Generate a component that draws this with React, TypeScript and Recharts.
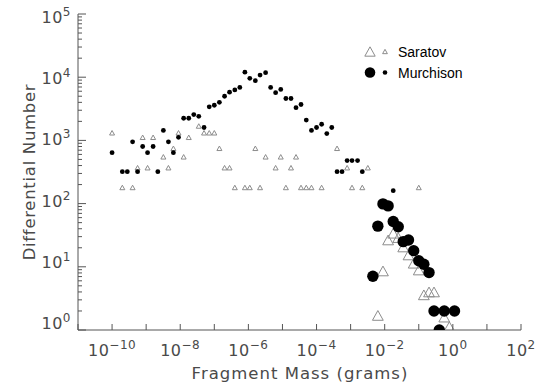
import React from 'react';
import { ScatterChart, Scatter, XAxis, YAxis, Legend } from 'recharts';

// [mass in grams, differential number]
const saratovSmall = [
  [1.0e-10, 1320], [2.0e-10, 180], [4.0e-10, 180], [5.6e-10, 370], [7.9e-10, 1120],
  [1.1e-9, 370], [1.6e-9, 1120], [3.2e-9, 550], [4.5e-9, 370], [6.3e-9, 750],
  [8.9e-9, 1320], [1.26e-8, 550], [1.78e-8, 1120], [3.5e-8, 1690], [5.0e-8, 1320],
  [7.1e-8, 1320], [1.0e-7, 1320], [1.41e-7, 750], [2.0e-7, 370], [2.8e-7, 370],
  [4.0e-7, 180], [7.9e-7, 180], [1.1e-6, 180], [1.6e-6, 750], [2.2e-6, 180],
  [3.2e-6, 550], [6.3e-6, 370], [8.9e-6, 550], [1.26e-5, 180], [1.78e-5, 370],
  [2.5e-5, 550], [3.5e-5, 180], [5.0e-5, 180], [7.1e-5, 180], [1.41e-4, 180],
  [4.0e-4, 750], [7.9e-4, 370], [1.1e-3, 180], [2.2e-3, 180], [3.2e-3, 370],
  [0.1, 180],
];

const saratovLarge = [
  [6.3e-3, 1.7], [8.9e-3, 8.6], [1.26e-2, 26.6], [1.78e-2, 34], [2.5e-2, 29],
  [3.5e-2, 20.6], [5.0e-2, 15.4], [7.1e-2, 11.4], [0.1, 8.9], [0.141, 3.6],
  [0.2, 4.0], [0.28, 4.0], [0.56, 1.6], [0.79, 1.13],
];

const murchisonSmall = [
  [1.0e-10, 640], [2.0e-10, 320], [2.8e-10, 320], [4.0e-10, 950], [5.6e-10, 320],
  [7.9e-10, 800], [1.1e-9, 640], [1.6e-9, 800], [2.2e-9, 320], [3.2e-9, 1440],
  [4.5e-9, 950], [6.3e-9, 640], [8.9e-9, 1120], [1.26e-8, 2240], [1.78e-8, 2240],
  [2.5e-8, 2560], [3.5e-8, 2400], [5.0e-8, 1600], [7.1e-8, 3400], [1.0e-7, 3600],
  [1.41e-7, 4000], [2.0e-7, 5000], [2.8e-7, 5800], [4.0e-7, 6300], [5.6e-7, 6900],
  [7.9e-7, 12000], [1.1e-6, 9600], [1.6e-6, 8800], [2.2e-6, 10800], [3.2e-6, 11800],
  [4.5e-6, 6900], [6.3e-6, 5700], [8.9e-6, 6400], [1.26e-5, 4600], [1.78e-5, 4600],
  [2.5e-5, 3300], [3.5e-5, 3700], [5.0e-5, 2100], [7.1e-5, 1440], [1.0e-4, 1600],
  [1.41e-4, 1800], [2.0e-4, 1280], [2.8e-4, 1600], [4.0e-4, 320], [5.6e-4, 320],
  [7.9e-4, 480], [1.1e-3, 480], [1.6e-3, 480], [2.2e-3, 320], [1.78e-2, 160],
];

const murchisonLarge = [
  [4.5e-3, 7.1], [6.3e-3, 44], [8.9e-3, 99], [1.26e-2, 92], [1.78e-2, 52],
  [2.5e-2, 43], [3.5e-2, 25], [5.0e-2, 26.5], [7.1e-2, 18], [0.1, 12.5],
  [0.141, 11], [0.2, 8.1], [0.28, 2], [0.4, 1], [0.56, 2], [1.12, 2],
];

const xTicks = [1e-11, 1e-10, 1e-9, 1e-8, 1e-7, 1e-6, 1e-5, 1e-4, 1e-3, 1e-2, 1e-1, 1e0, 1e1, 1e2];
const yMajor = [1, 10, 100, 1000, 10000, 100000];
const yMinorSteps = [2, 3, 4, 5, 6, 7, 8, 9];
const yTicks = [...yMajor, ...yMajor.slice(0, -1).flatMap((d) => yMinorSteps.map((s) => s * d))];

const AXIS = '#555';
const TXT = '#4a4a4a';
const TRI = '#8c8c8c';
const FONT = '"DejaVu Sans", sans-serif';

const toPts = (arr: number[][]) => arr.map(([m, n]) => ({ m, n }));

const expOf = (v: number) => Math.round(Math.log10(v));
const expText = (e: number) => (e < 0 ? '\u2212' + -e : String(e));

const Pow = ({ x, y, e, anchor }: any) => (
  <text x={x} y={y} textAnchor={anchor} fill={TXT} fontFamily={FONT} fontSize={16} letterSpacing={0.5}>
    <tspan>10</tspan>
    <tspan dy={-7} fontSize={12}>{expText(e)}</tspan>
  </text>
);

const BottomTick = ({ x, y, payload }: any) => {
  const e = expOf(payload.value);
  return (
    <g>
      <line x1={x} x2={x} y1={y} y2={y - 6} stroke={AXIS} />
      {Math.abs(e) % 2 === 0 && <Pow x={x} y={y + 26} e={e} anchor="middle" />}
    </g>
  );
};

const TopTick = ({ x, y }: any) => <line x1={x} x2={x} y1={y} y2={y + 6} stroke={AXIS} />;

const isMajor = (v: number) => Math.abs(Math.log10(v) - Math.round(Math.log10(v))) < 1e-6;

const LeftTick = ({ x, y, payload }: any) => {
  const major = isMajor(payload.value);
  const e = expOf(payload.value);
  return (
    <g>
      <line x1={x} x2={x + (major ? 8 : 4)} y1={y} y2={y} stroke={AXIS} />
      {major && <Pow x={x - 7} y={y + 9 - 2 * (5 - e)} e={e} anchor="end" />}
    </g>
  );
};

const RightTick = ({ x, y, payload }: any) => {
  const major = isMajor(payload.value);
  return <line x1={x} x2={x - (major ? 8 : 4)} y1={y} y2={y} stroke={AXIS} />;
};

const tri = (cx: number, cy: number, h: number) =>
  `M${cx - h},${cy + h * 0.9}L${cx + h},${cy + h * 0.9}L${cx},${cy - h * 0.9}Z`;

const SmallTri = ({ cx, cy }: any) => <path d={tri(cx, cy, 2.5)} fill="none" stroke={TRI} strokeWidth={1} />;
const LargeTri = ({ cx, cy }: any) => <path d={tri(cx, cy, 5.4)} fill="none" stroke={TRI} strokeWidth={1} />;
const SmallDot = ({ cx, cy }: any) => <circle cx={cx} cy={cy} r={2.4} fill="#000" />;
const LargeDot = ({ cx, cy }: any) => <circle cx={cx} cy={cy} r={5.7} fill="#000" />;

const LegendBox = () => (
  <svg width={130} height={46} style={{ display: 'block' }}>
    <path d={tri(10, 13.5, 5.2)} fill="none" stroke={TRI} />
    <path d={tri(25, 13.5, 2.4)} fill="none" stroke={TRI} />
    <text x={38} y={18.5} fontFamily="Liberation Sans, Arial, sans-serif" fontSize={14} fill="#000">Saratov</text>
    <circle cx={10} cy={34.5} r={5.3} fill="#000" />
    <circle cx={25} cy={34.5} r={2.3} fill="#000" />
    <text x={38} y={39.5} fontFamily="Liberation Sans, Arial, sans-serif" fontSize={14} fill="#000">Murchison</text>
  </svg>
);

export default function App() {
  return (
    <div style={{ position: 'absolute', left: 0, top: 0, width: 539, height: 385, background: '#fff' }}>
      <ScatterChart width={539} height={385} margin={{ top: 14, right: 18, bottom: 0, left: 0 }}>
        <XAxis
          xAxisId="b" type="number" dataKey="m" scale="log" domain={[1e-11, 1e2]} allowDataOverflow
          ticks={xTicks} interval={0} tick={<BottomTick />} tickLine={false} tickSize={0} tickMargin={0}
          height={55} axisLine={{ stroke: AXIS }}
          label={{
            content: () => (
              <text x={300} y={379} textAnchor="middle" fill={TXT} fontFamily={FONT} fontSize={16.5} letterSpacing={1}>
                Fragment Mass (grams)
              </text>
            ),
          }}
        />
        <XAxis
          xAxisId="t" orientation="top" type="number" dataKey="m" scale="log" domain={[1e-11, 1e2]} allowDataOverflow
          ticks={xTicks} interval={0} tick={<TopTick />} tickLine={false} tickSize={0} tickMargin={0}
          height={0} axisLine={{ stroke: AXIS }}
        />
        <YAxis
          yAxisId="l" type="number" dataKey="n" scale="log" domain={[1, 1e5]} allowDataOverflow
          ticks={yTicks} interval={0} tick={<LeftTick />} tickLine={false} tickSize={0} tickMargin={0}
          width={78} axisLine={{ stroke: AXIS }}
          label={{
            content: () => (
              <text x={35} y={172} transform="rotate(-90 35 172)" textAnchor="middle" fill={TXT} fontFamily={FONT} fontSize={16.5} letterSpacing={0.7}>
                Differential Number
              </text>
            ),
          }}
        />
        <YAxis
          yAxisId="r" orientation="right" type="number" dataKey="n" scale="log" domain={[1, 1e5]} allowDataOverflow
          ticks={yTicks} interval={0} tick={<RightTick />} tickLine={false} tickSize={0} tickMargin={0}
          width={0} axisLine={{ stroke: AXIS }}
        />
        <Legend
          layout="vertical" align="center" verticalAlign="middle"
          wrapperStyle={{ left: 360, top: 38, width: 140 }}
          content={() => <LegendBox />}
        />
        <Scatter name="Saratov" data={toPts(saratovSmall)} xAxisId="b" yAxisId="l" shape={<SmallTri />} isAnimationActive={false} />
        <Scatter name="Murchison" data={toPts(murchisonSmall)} xAxisId="b" yAxisId="l" shape={<SmallDot />} isAnimationActive={false} />
        <Scatter name="Saratov large" data={toPts(saratovLarge)} xAxisId="b" yAxisId="l" shape={<LargeTri />} isAnimationActive={false} />
        <Scatter name="Murchison large" data={toPts(murchisonLarge)} xAxisId="b" yAxisId="l" shape={<LargeDot />} isAnimationActive={false} />
      </ScatterChart>
    </div>
  );
}
